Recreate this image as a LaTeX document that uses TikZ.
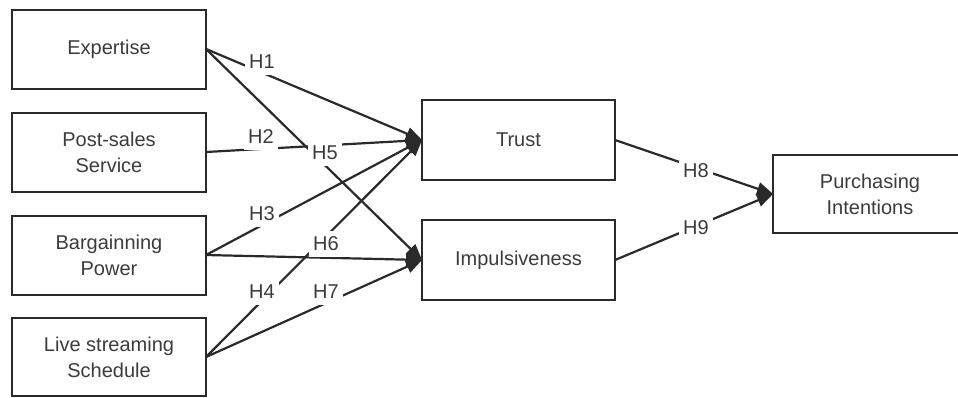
\documentclass[tikz,border=0pt]{standalone}
\usepackage{fontspec}
\setmainfont{Liberation Sans}
\usetikzlibrary{arrows.meta}
\definecolor{ink}{HTML}{2A2A2A}
\definecolor{txt}{HTML}{3C3C3C}
\begin{document}
\begin{tikzpicture}[x=1pt,y=-1pt,
  box/.style={draw=ink, line width=2pt, fill=white, inner sep=0pt, outer sep=0pt,
    align=center, text=txt, font=\fontsize{20}{26}\selectfont},
  link/.style={draw=ink, line width=2.2pt, -{Triangle[length=16pt,width=13pt]}},
  hyp/.style={fill=white, inner sep=0pt, minimum width=34pt, minimum height=26pt,
    text=txt, font=\fontsize{20}{22}\selectfont}]
\useasboundingbox (0,0) rectangle (958,397);
\clip (0,0) rectangle (958,397);
\fill[white] (0,0) rectangle (958,397);

% antecedents
\node[box, minimum width=194pt, minimum height=79pt] (exp) at (109,49) {Expertise};
\node[box, minimum width=194pt, minimum height=79pt] (pss) at (109,152) {Post-sales\\Service};
\node[box, minimum width=194pt, minimum height=79pt] (bar) at (109,255) {Bargainning\\Power};
\node[box, minimum width=194pt, minimum height=78pt] (live) at (109,357) {Live streaming\\Schedule};

% mediators and outcome
\node[box, minimum width=193pt, minimum height=80pt] (trust) at (518.5,140) {Trust};
\node[box, minimum width=193pt, minimum height=80pt] (imp) at (518.5,260) {Impulsiveness};
\node[box, minimum width=194pt, minimum height=78pt] (pi) at (870,194) {Purchasing\\Intentions};

% hypothesised paths
\draw[link] (exp.east) -- (trust.west);
\draw[link] (exp.east) -- (imp.west);
\draw[link] (pss.east) -- (trust.west);
\draw[link] (bar.east) -- (trust.west);
\draw[link] (bar.east) -- (imp.west);
\draw[link] (live.east) -- (trust.west);
\draw[link] (live.east) -- (imp.west);
\draw[link] (trust.east) -- (pi.west);
\draw[link] (imp.east) -- (pi.west);

% path labels
\node[hyp] (h1) at (262,62) {H1};
\node[hyp] (h2) at (261,137) {H2};
\node[hyp] (h5) at (325,153) {H5};
\node[hyp] (h3) at (262,214) {H3};
\node[hyp] (h6) at (326,244) {H6};
\node[hyp] (h4) at (262,292) {H4};
\node[hyp] (h7) at (326,292) {H7};
\node[hyp, minimum height=20pt] (h8) at (696,171) {H8};
\node[hyp, minimum height=20pt] (h9) at (696,228) {H9};
\end{tikzpicture}
\end{document}
